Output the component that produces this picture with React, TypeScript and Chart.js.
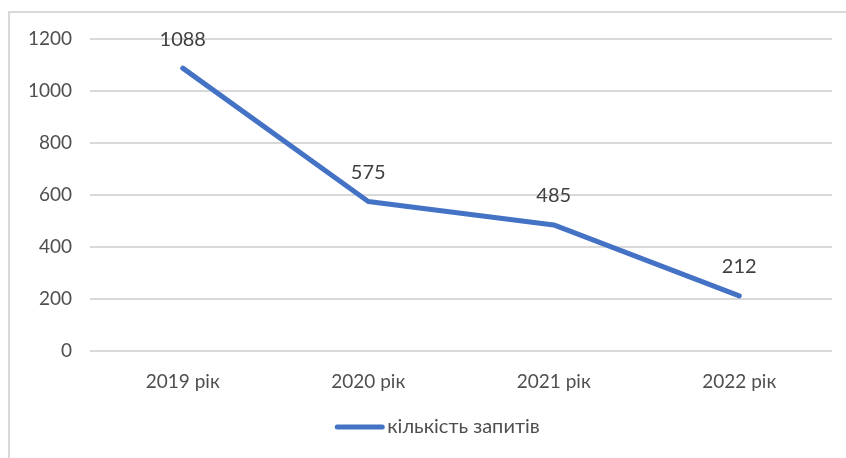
import React, { useEffect, useRef } from "react";
import { Chart, registerables } from "chart.js";

Chart.register(...registerables);

const categories = ["2019 рік", "2020 рік", "2021 рік", "2022 рік"];
const seriesLabel = "кількість запитів";
const seriesValues = [1088, 575, 485, 212];
const yTicks = [0, 200, 400, 600, 800, 1000, 1200];

const FONT = "Lato, 'Open Sans', sans-serif";
const TEXT = "#4f4f4f";
const GRID = "#d9d9d9";
const BLUE = "#4472C4";

const dataLabels = {
  id: "dataLabels",
  afterDatasetsDraw(chart: any) {
    const ctx = chart.ctx;
    const meta = chart.getDatasetMeta(0);
    const ds = chart.data.datasets[0];
    ctx.save();
    ctx.font = `20px ${FONT}`;
    ctx.fillStyle = "#404040";
    ctx.textAlign = "center";
    ctx.textBaseline = "middle";
    meta.data.forEach((pt: any, i: number) => {
      ctx.fillText(String(ds.data[i]), pt.x, pt.y - 29);
    });
    ctx.restore();
  },
};

// Legend drawn below the x axis, centred like the original (line swatch + label)
const customLegend = {
  id: "customLegend",
  afterDraw(chart: any) {
    const ctx = chart.ctx;
    const ds = chart.data.datasets[0];
    const swatch = 49;
    const gap = 3;
    ctx.save();
    ctx.font = `20px ${FONT}`;
    const tw = ctx.measureText(ds.label).width;
    const total = swatch + gap + tw;
    const cx = 437.5;
    const y = chart.chartArea.bottom + 76;
    const x0 = cx - total / 2;
    ctx.strokeStyle = ds.borderColor;
    ctx.lineWidth = 5;
    ctx.lineCap = "round";
    ctx.beginPath();
    ctx.moveTo(x0 + 2, y);
    ctx.lineTo(x0 + swatch - 2, y);
    ctx.stroke();
    ctx.fillStyle = TEXT;
    ctx.textAlign = "left";
    ctx.textBaseline = "middle";
    ctx.fillText(ds.label, x0 + swatch + gap, y);
    ctx.restore();
  },
};

export default function App() {
  const ref = useRef<HTMLCanvasElement>(null);
  useEffect(() => {
    if (!ref.current) return;
    const chart = new Chart(ref.current, {
      type: "line",
      data: {
        labels: categories,
        datasets: [
          {
            label: seriesLabel,
            data: seriesValues,
            borderColor: BLUE,
            backgroundColor: BLUE,
            borderWidth: 5,
            borderCapStyle: "round",
            borderJoinStyle: "round",
            pointRadius: 0,
            pointHoverRadius: 0,
            tension: 0,
          },
        ],
      },
      options: {
        animation: false,
        responsive: false,
        layout: { padding: { top: 39, right: 14, left: 0, bottom: 50 } },
        plugins: {
          tooltip: { enabled: false },
          legend: { display: false },
        },
        scales: {
          x: {
            offset: true,
            grid: { display: false, drawTicks: false },
            border: { display: false },
            ticks: {
              color: TEXT,
              font: { family: FONT, size: 19 },
              padding: 19,
              maxRotation: 0,
            },
            afterFit(scale: any) {
              scale.height = 57;
            },
          },
          y: {
            min: 0,
            max: 1200,
            afterBuildTicks(scale: any) {
              scale.ticks = yTicks.map((v) => ({ value: v }));
            },
            grid: { color: GRID, lineWidth: 2, drawTicks: false },
            border: { display: false },
            ticks: {
              color: TEXT,
              font: { family: FONT, size: 19 },
              padding: 18,
              callback: (v: any) => String(v),
            },
            afterFit(scale: any) {
              scale.width = 90;
            },
          },
        },
      },
      plugins: [dataLabels, customLegend],
    });
    return () => chart.destroy();
  }, []);

  return (
    <div
      style={{
        position: "fixed",
        left: 0,
        top: 0,
        width: 846,
        height: 458,
        overflow: "hidden",
        background: "#fff",
      }}
    >
      <div
        style={{
          position: "absolute",
          left: 8,
          top: 11,
          width: 900,
          height: 500,
          border: `2px solid ${GRID}`,
        }}
      />
      <canvas
        ref={ref}
        width={846}
        height={458}
        style={{ position: "absolute", left: 0, top: 0 }}
      />
    </div>
  );
}
